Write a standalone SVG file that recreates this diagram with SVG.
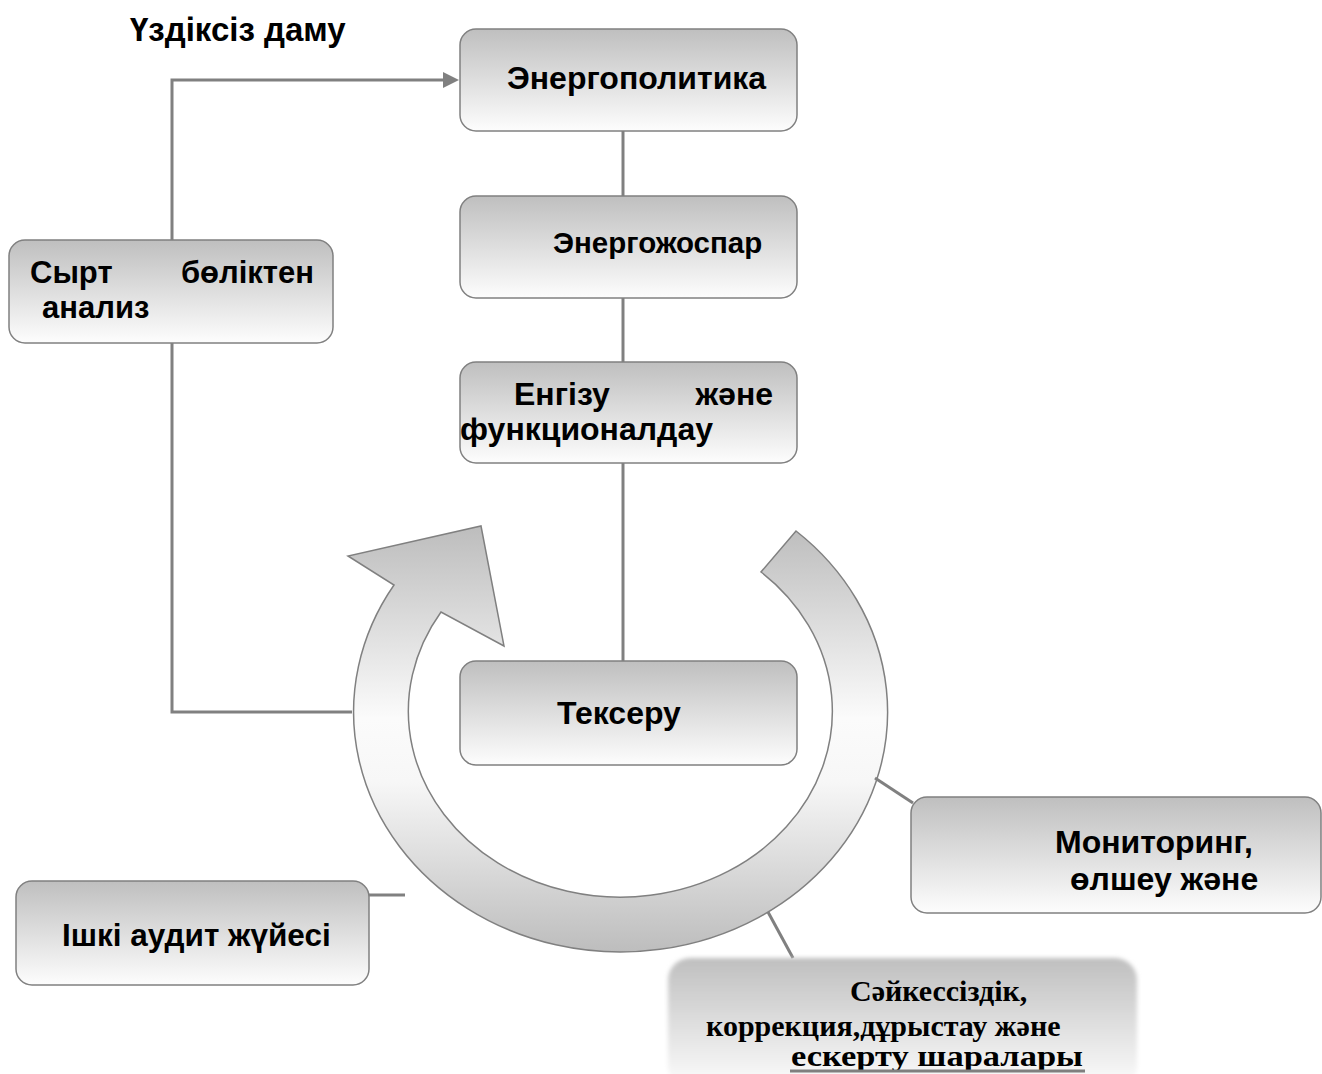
<svg xmlns="http://www.w3.org/2000/svg" width="1322" height="1074" viewBox="0 0 1322 1074">
<defs>
<linearGradient id="boxg" x1="0" y1="0" x2="0" y2="1">
<stop offset="0" stop-color="#bfbfbf"/>
<stop offset="1" stop-color="#fdfdfd"/>
</linearGradient>
<linearGradient id="ringg" gradientUnits="userSpaceOnUse" x1="0" y1="527" x2="0" y2="952">
<stop offset="0" stop-color="#bdbdbd"/>
<stop offset="0.45" stop-color="#fbfbfb"/>
<stop offset="0.6" stop-color="#f7f7f7"/>
<stop offset="1" stop-color="#bdbdbd"/>
</linearGradient>
<filter id="soft" x="-5%" y="-10%" width="110%" height="120%">
<feGaussianBlur stdDeviation="2"/>
</filter>
<style>
.box{fill:url(#boxg);stroke:#808080;stroke-width:1.5}
.t{font-family:"Liberation Sans",Arial,sans-serif;font-weight:bold;fill:#000}
.s{font-family:"Liberation Serif","Times New Roman",serif;font-weight:bold;fill:#000;font-size:30px}
.c{fill:none;stroke:#808080;stroke-width:3}
</style>
</defs>
<rect width="1322" height="1074" fill="#fff"/>

<g id="ring">
<path d="M796,531 A267,240 0 1 1 394,585 L348,556 L481,526 L504,646 L441,612 A212,186 0 1 0 761,572 Z" fill="url(#ringg)" stroke="#808080" stroke-width="1.5"/>
</g>

<g id="connectors">
<line class="c" x1="623" y1="131" x2="623" y2="196"/>
<line class="c" x1="623" y1="298" x2="623" y2="362"/>
<line class="c" x1="623" y1="463" x2="623" y2="661"/>
<polyline class="c" points="172,240 172,80 446,80"/>
<path d="M443,72 L459,80 L443,88 Z" fill="#808080"/>
<polyline class="c" points="172,343 172,712 352,712"/>
<line class="c" x1="875" y1="778" x2="913" y2="803"/>
<line class="c" x1="369" y1="895" x2="405" y2="895"/>
<line class="c" x1="768" y1="912" x2="793" y2="958"/>
</g>

<text class="t" x="130" y="41" font-size="33">Үздіксіз даму</text>

<g id="energopolitika">
<rect class="box" x="460" y="29" width="337" height="102" rx="16"/>
<text class="t" x="507" y="89" font-size="32">Энергополитика</text>
</g>

<g id="energozhospar">
<rect class="box" x="460" y="196" width="337" height="102" rx="16"/>
<text class="t" x="553" y="253" font-size="29.5">Энергожоспар</text>
</g>

<g id="engizu">
<rect class="box" x="460" y="362" width="337" height="101" rx="16"/>
<text class="t" x="514" y="405" font-size="32">Енгізу</text>
<text class="t" x="773" y="405" font-size="32" text-anchor="end">және</text>
<text class="t" x="460" y="440" font-size="32">функционалдау</text>
</g>

<g id="syrt">
<rect class="box" x="9" y="240" width="324" height="103" rx="16"/>
<text class="t" x="30" y="283" font-size="31">Сырт</text>
<text class="t" x="314" y="283" font-size="31" text-anchor="end">бөліктен</text>
<text class="t" x="42" y="318" font-size="31">анализ</text>
</g>

<g id="tekseru">
<rect class="box" x="460" y="661" width="337" height="104" rx="16"/>
<text class="t" x="557" y="724" font-size="32">Тексеру</text>
</g>

<g id="monitoring">
<rect class="box" x="911" y="797" width="410" height="116" rx="16"/>
<text class="t" x="1055" y="853" font-size="32">Мониторинг,</text>
<text class="t" x="1070" y="890" font-size="32">өлшеу және</text>
</g>

<g id="audit">
<rect class="box" x="16" y="881" width="353" height="104" rx="16"/>
<text class="t" x="62" y="946" font-size="31.5">Ішкі аудит жүйесі</text>
</g>

<g id="saikessizdik">
<rect x="668" y="958" width="469" height="130" rx="22" fill="url(#boxg)" filter="url(#soft)"/>
<text class="s" x="850" y="1001">Сәйкессіздік,</text>
<text class="s" x="706" y="1036">коррекция,дұрыстау және</text>
<text class="s" x="791" y="1066" textLength="292" lengthAdjust="spacingAndGlyphs">ескерту шаралары</text>
<line x1="790" y1="1071" x2="1085" y2="1071" stroke="#7f7f7f" stroke-width="3"/>
</g>
</svg>
